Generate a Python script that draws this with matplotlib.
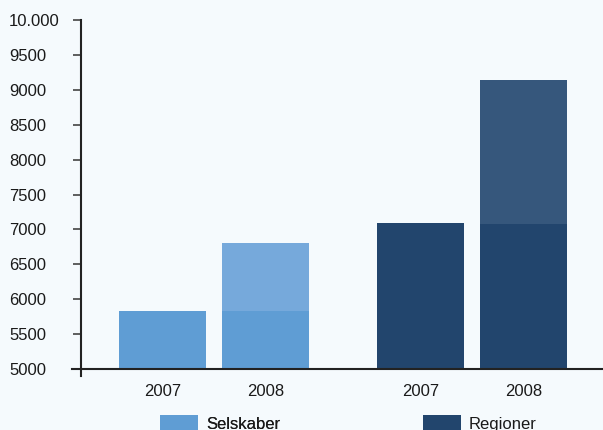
import matplotlib
matplotlib.use("Agg")
import matplotlib.pyplot as plt
from matplotlib.lines import Line2D
from matplotlib import font_manager

fams = {f.name for f in font_manager.fontManager.ttflist}
fam = 'Liberation Sans Narrow' if 'Liberation Sans Narrow' in fams else 'Liberation Sans'
plt.rcParams['font.family'] = [fam, 'DejaVu Sans']

groups = ['Selskaber', 'Regioner']
years = ['2007', '2008']
base_values = {'Selskaber': [5830, 5830], 'Regioner': [7090, 7080]}
total_values = {'Selskaber': [5830, 6805], 'Regioner': [7090, 9145]}
yticks = [5000, 5500, 6000, 6500, 7000, 7500, 8000, 8500, 9000, 9500, 10000]
ytick_labels = ['5000', '5500', '6000', '6500', '7000', '7500', '8000', '8500', '9000', '9500', '10.000']

base_colors = {'Selskaber': '#5f9dd4', 'Regioner': '#22456d'}
top_colors = {'Selskaber': '#76a9db', 'Regioner': '#36577c'}
bg = '#f5fafd'

fig = plt.figure(figsize=(6.03, 4.30), dpi=100, facecolor=bg)
ax = fig.add_axes([81/603, 61/430, 1 - 81/603, (369-20)/430])
ax.set_facecolor(bg)

positions = {'Selskaber': [0, 1], 'Regioner': [2.5, 3.5]}
width = 0.845
handles = []
for g in groups:
    xs = positions[g]
    b = ax.bar(xs, [v - 5000 for v in base_values[g]], bottom=5000, width=width,
               color=base_colors[g], label=g, zorder=2)
    tops = [t - bv for t, bv in zip(total_values[g], base_values[g])]
    ax.bar(xs, tops, bottom=base_values[g], width=width, color=top_colors[g], zorder=2)
    handles.append(b)

ax.set_ylim(5000, 10000)
ax.set_xlim(-0.791, 4.272)
ax.set_yticks(yticks)
ax.set_yticklabels(ytick_labels, ha='left')
allx = positions['Selskaber'] + positions['Regioner']
ax.set_xticks(allx)
ax.set_xticklabels(years + years)
ax.tick_params(axis='y', direction='out', length=5.76, width=1.2, color='#444444',
               pad=46, labelsize=12, labelcolor='#1a1a1a')
ax.tick_params(axis='x', length=0, pad=10.5, labelsize=12, labelcolor='#1a1a1a')
for s in ax.spines.values():
    s.set_visible(False)

# axis lines
ax.add_line(Line2D([-9/522, 1], [0, 0], transform=ax.transAxes, color='#222222',
                   lw=1.5, clip_on=False, zorder=3))
ax.add_line(Line2D([0, 0], [-7/349, 1], transform=ax.transAxes, color='#222222',
                   lw=1.5, clip_on=False, zorder=3))

fs = 12
leg1 = fig.legend([handles[0]], ['Selskaber'], loc='upper left',
                  bbox_to_anchor=(160/603, 15/430), frameon=False, fontsize=fs,
                  handlelength=2.28, handleheight=1.1, handletextpad=0.48,
                  borderpad=0, borderaxespad=0, labelcolor='#1a1a1a')
leg2 = fig.legend([handles[1]], ['Regioner'], loc='upper left',
                  bbox_to_anchor=(423/603, 15/430), frameon=False, fontsize=fs,
                  handlelength=2.28, handleheight=1.1, handletextpad=0.48,
                  borderpad=0, borderaxespad=0, labelcolor='#1a1a1a')
fig.add_artist(leg1)

fig.savefig('out.png', dpi=100, facecolor=bg)
